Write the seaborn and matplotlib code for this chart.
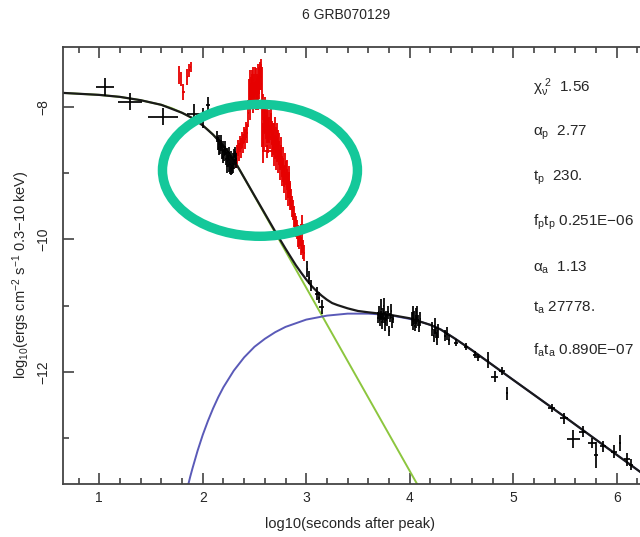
import numpy as np
import pandas as pd
import matplotlib
matplotlib.use("Agg")
import matplotlib.pyplot as plt
from matplotlib.patches import Ellipse
from matplotlib.ticker import MultipleLocator
import seaborn as sns

# ---------------- data ----------------
# model curves: log10(seconds after peak) vs log10 flux
prompt_x = [0.65, 1.0, 1.2, 1.4, 1.6, 1.7, 1.8, 1.9, 2.0, 2.05, 2.1, 2.15, 2.2, 2.25, 2.3, 2.33, 2.36, 4.1]
prompt_y = [-7.79, -7.82, -7.85, -7.90, -7.97, -8.02, -8.09, -8.17, -8.28, -8.345, -8.42, -8.50, -8.59, -8.69, -8.80, -8.875, -8.96, -13.77]

after_x = [1.86, 1.88, 1.9, 1.95, 2.0, 2.05, 2.1, 2.15, 2.2, 2.3, 2.4, 2.5, 2.6, 2.7, 2.8, 3.0, 3.2, 3.4, 3.6, 3.8, 4.0, 4.1, 4.2, 4.3, 4.44, 4.6, 5.0, 5.5, 6.0, 6.6]
after_y = [-13.70, -13.575, -13.46, -13.19, -12.95, -12.74, -12.55, -12.38, -12.23, -11.98, -11.78, -11.62, -11.50, -11.40, -11.32, -11.21, -11.15, -11.12, -11.12, -11.14, -11.20, -11.24, -11.29, -11.36, -11.50, -11.67, -12.12, -12.68, -13.25, -13.93]

total_x = [0.65, 1.0, 1.2, 1.4, 1.6, 1.8, 1.9, 2.0, 2.1, 2.2, 2.3, 2.36, 2.5, 2.6, 2.7, 2.8, 2.9, 2.95, 3.0, 3.05, 3.1, 3.15, 3.2, 3.25, 3.3, 3.4, 3.5, 3.6, 3.8, 4.0, 4.2, 4.3, 4.44, 4.6, 5.0, 5.5, 6.0, 6.6]
total_y = [-7.79, -7.82, -7.85, -7.90, -7.97, -8.09, -8.17, -8.28, -8.42, -8.59, -8.80, -8.96, -9.34, -9.61, -9.88, -10.14, -10.39, -10.50, -10.605, -10.70, -10.78, -10.85, -10.91, -10.96, -10.99, -11.04, -11.08, -11.10, -11.135, -11.19, -11.29, -11.36, -11.50, -11.67, -12.12, -12.68, -13.25, -13.93]

# black data points
blk_x = [1.056, 1.297, 1.62, 1.92, 2.0, 2.05,
         2.14, 2.15, 2.16, 2.17, 2.18, 2.19, 2.20, 2.21, 2.22, 2.225, 2.23, 2.24, 2.245, 2.25, 2.26, 2.265, 2.27, 2.28, 2.285, 2.29, 2.30, 2.305, 2.31, 2.32,
         2.155, 2.175, 2.195, 2.215, 2.235, 2.255, 2.275, 2.295, 2.315, 2.325,
         3.01, 3.03, 3.05, 3.10, 3.12, 3.15,
         3.69, 3.70, 3.71, 3.72, 3.725, 3.73, 3.74, 3.745, 3.75, 3.76, 3.765, 3.77, 3.78, 3.79, 3.80, 3.81, 3.82, 3.83, 3.84,
         4.02, 4.03, 4.035, 4.04, 4.05, 4.06, 4.065, 4.07, 4.08, 4.09, 4.10,
         4.22, 4.23, 4.24, 4.25, 4.26, 4.27, 4.34, 4.36, 4.38,
         4.45, 4.54, 4.63, 4.66, 4.76, 4.82, 4.89, 4.94,
         5.37, 5.49, 5.58, 5.67, 5.76, 5.80, 5.87, 5.97, 6.03, 6.10, 6.14]
blk_y = [-7.70, -7.92, -8.146, -8.11, -8.17, -7.98,
         -8.45, -8.55, -8.50, -8.62, -8.58, -8.68, -8.60, -8.72, -8.66, -8.78, -8.70, -8.82, -8.74, -8.88, -8.80, -8.92, -8.75, -8.85, -8.95, -8.78, -8.86, -8.70, -8.80, -8.75,
         -8.62, -8.52, -8.75, -8.62, -8.90, -8.70, -8.95, -8.92, -8.68, -8.85,
         -10.45, -10.58, -10.70, -10.82, -10.88, -11.02,
         -11.18, -11.10, -11.22, -11.15, -11.05, -11.25, -11.12, -11.20, -11.00, -11.18, -11.28, -11.15, -11.22, -11.10, -11.38, -11.18, -11.08, -11.25, -11.20,
         -11.20, -11.12, -11.28, -11.18, -11.30, -11.15, -11.25, -11.10, -11.22, -11.32, -11.20,
         -11.35, -11.45, -11.30, -11.40, -11.50, -11.38, -11.45, -11.42, -11.52,
         -11.56, -11.62, -11.74, -11.78, -11.82, -12.07, -11.99, -12.32,
         -12.54, -12.70, -13.01, -12.90, -13.07, -13.25, -13.12, -13.20, -13.07, -13.32, -13.40]
blk_xerr = [0.09, 0.115, 0.145, 0.07, 0.05, 0.02] + [0.006] * 24 + [0.006] * 10 + [0.005, 0.005, 0.01, 0.02, 0.01, 0.025] + [0.005] * 19 + [0.005] * 11 + [0.005] * 6 + [0.008] * 3 + \
           [0.02, 0.02, 0.02, 0.02, 0.005, 0.03, 0.03, 0.01] + [0.03, 0.04, 0.065, 0.03, 0.04, 0.015, 0.03, 0.03, 0.01, 0.025, 0.02]
blk_yerr = [0.135, 0.13, 0.13, 0.16, 0.15, 0.13] + [0.08, 0.1, 0.07, 0.09, 0.08, 0.1, 0.08, 0.09, 0.07, 0.1, 0.08, 0.09, 0.07, 0.1, 0.08, 0.09, 0.08, 0.1, 0.07, 0.09, 0.08, 0.07, 0.08, 0.06] + \
           [0.1, 0.1, 0.1, 0.1, 0.1, 0.1, 0.08, 0.08, 0.08, 0.08] + \
           [0.12, 0.1, 0.08, 0.1, 0.08, 0.1] + \
           [0.08, 0.1, 0.08, 0.07, 0.15, 0.1, 0.08, 0.06, 0.12, 0.08, 0.1, 0.07, 0.09, 0.1, 0.08, 0.07, 0.1, 0.08, 0.06] + \
           [0.1, 0.12, 0.08, 0.1, 0.08, 0.12, 0.08, 0.1, 0.08, 0.07, 0.1] + \
           [0.1, 0.1, 0.12, 0.08, 0.1, 0.1, 0.08, 0.1, 0.08] + \
           [0.05, 0.05, 0.05, 0.05, 0.12, 0.08, 0.06, 0.1] + \
           [0.06, 0.08, 0.13, 0.08, 0.08, 0.2, 0.08, 0.1, 0.12, 0.1, 0.08]

# red (flare) data points
red_x = [1.77, 1.79, 1.81, 1.85, 1.87, 1.885,
         2.32, 2.33, 2.34, 2.35, 2.36, 2.37, 2.38, 2.39, 2.40, 2.41, 2.42, 2.43, 2.44, 2.45, 2.46, 2.47, 2.48, 2.49,
         2.50, 2.51, 2.52, 2.53, 2.54, 2.55, 2.56, 2.57, 2.58, 2.59, 2.60, 2.61, 2.62, 2.63, 2.64, 2.65, 2.66, 2.67,
         2.68, 2.69, 2.70, 2.71, 2.72, 2.73, 2.74, 2.75, 2.76, 2.77, 2.78, 2.79, 2.80, 2.81, 2.82, 2.83, 2.84, 2.85,
         2.86, 2.87, 2.88, 2.89, 2.90, 2.91, 2.92, 2.93, 2.94, 2.95, 2.96, 2.97, 2.98,
         2.455, 2.465, 2.475, 2.485, 2.495, 2.505, 2.515, 2.525, 2.535, 2.545, 2.555, 2.565, 2.575, 2.585, 2.595,
         2.605, 2.615, 2.625, 2.635, 2.645, 2.655, 2.665, 2.675, 2.685, 2.695, 2.705, 2.715, 2.725, 2.735, 2.745,
         2.755, 2.765, 2.775, 2.785, 2.795, 2.805, 2.815, 2.825, 2.835, 2.845,
         2.62, 2.96]
red_y = [-7.52, -7.58, -7.78, -7.55, -7.45, -7.40,
         -8.80, -8.72, -8.62, -8.68, -8.56, -8.62, -8.50, -8.55, -8.42, -8.48, -8.35, -8.40, -8.10, -7.80, -7.65, -7.85, -7.70, -7.60,
         -7.80, -7.62, -7.75, -7.55, -7.70, -7.45, -7.36, -7.65, -8.00, -8.20, -8.05, -8.30, -8.15, -8.35, -8.25, -8.45, -8.30, -8.40,
         -8.55, -8.45, -8.60, -8.50, -8.65, -8.55, -8.70, -8.80, -8.75, -8.90, -8.95, -9.05, -9.00, -9.10, -9.20, -9.15, -9.30, -9.40,
         -9.50, -9.55, -9.65, -9.75, -9.80, -9.85, -9.95, -10.00, -9.95, -10.10, -10.05, -10.15, -10.20,
         -7.95, -7.75, -7.70, -7.90, -7.70, -7.65, -7.85, -7.70, -7.80, -7.60, -7.55, -7.55, -8.30, -8.55, -8.40,
         -8.15, -8.40, -8.30, -8.50, -8.35, -8.20, -8.55, -8.45, -8.70, -8.35, -8.75, -8.45, -8.80, -8.60, -8.90,
         -8.65, -9.00, -8.80, -9.10, -8.90, -9.20, -9.00, -9.30, -9.10, -9.35,
         -8.67, -9.78]
red_xerr = [0.004, 0.004, 0.015, 0.004, 0.004, 0.004] + [0.005] * 67 + [0.005] * 40 + [0.05, 0.02]
red_yerr = [0.13, 0.10, 0.12, 0.12, 0.10, 0.08] + \
           [0.12, 0.15, 0.12, 0.14, 0.12, 0.15, 0.12, 0.14, 0.12, 0.15, 0.12, 0.14, 0.2, 0.22, 0.2, 0.18, 0.2, 0.2,
            0.18, 0.2, 0.18, 0.2, 0.18, 0.12, 0.08, 0.25, 0.2, 0.18, 0.2, 0.18, 0.2, 0.18, 0.2, 0.18, 0.2, 0.18,
            0.18, 0.2, 0.18, 0.2, 0.18, 0.2, 0.18, 0.16, 0.18, 0.16, 0.18, 0.16, 0.18, 0.16, 0.18, 0.16, 0.18, 0.16,
            0.16, 0.15, 0.16, 0.15, 0.16, 0.15, 0.16, 0.15, 0.15, 0.14, 0.15, 0.14, 0.12] + \
           [0.25, 0.2, 0.25, 0.2, 0.2, 0.25, 0.2, 0.2, 0.25, 0.2, 0.2, 0.2, 0.3, 0.3, 0.25,
            0.25, 0.2, 0.25, 0.2, 0.2, 0.2, 0.2, 0.2, 0.2, 0.2, 0.2, 0.2, 0.2, 0.2, 0.2,
            0.2, 0.2, 0.2, 0.2, 0.2, 0.2, 0.2, 0.2, 0.2, 0.2] + [0.1, 0.15]

# fit parameters shown at the right
param_labels = [r'$\chi_\nu^{\ 2}$', r'$\alpha_p$', r'$t_p$', r'$f_pt_p$', r'$\alpha_a$', r'$t_a$', r'$f_at_a$']
param_values = ['  1.56', '  2.77', '  230.', ' 0.251E\u221206', '  1.13', ' 27778.', ' 0.890E\u221207']

x_ticks = [1, 2, 3, 4, 5, 6]
y_ticks = [-8, -10, -12]

# ---------------- figure ----------------
sns.set_theme(style="ticks")
plt.rcParams['font.family'] = ['Liberation Sans', 'DejaVu Sans']
plt.rcParams['mathtext.default'] = 'regular'

W, H = 640, 537
fig = plt.figure(figsize=(W / 100, H / 100), dpi=100)
ax_left, ax_right_px, ax_top, ax_bot = 63, 679, 46.5, 484
ax = fig.add_axes([ax_left / W, (H - ax_bot) / H, (ax_right_px - ax_left) / W, (ax_bot - ax_top) / H])

df_p = pd.DataFrame({'x': prompt_x, 'y': prompt_y})
df_a = pd.DataFrame({'x': after_x, 'y': after_y})
df_t = pd.DataFrame({'x': total_x, 'y': total_y})

sns.lineplot(data=df_p, x='x', y='y', ax=ax, color='#8cc63e', lw=1.4, sort=False, estimator=None)
sns.lineplot(data=df_a, x='x', y='y', ax=ax, color='#5a5ab8', lw=1.4, sort=False, estimator=None)
sns.lineplot(data=df_t, x='x', y='y', ax=ax, color='#1a1a1a', lw=1.6, sort=False, estimator=None)

ax.errorbar(red_x, red_y, xerr=red_xerr, yerr=red_yerr, fmt='none', ecolor='#e60000', elinewidth=1.3, capsize=0, zorder=4)
ax.errorbar(blk_x, blk_y, xerr=blk_xerr, yerr=blk_yerr, fmt='none', ecolor='black', elinewidth=1.25, capsize=0, zorder=4)

ax.add_patch(Ellipse((2.553, -8.958), 1.884, 1.99, fill=False, edgecolor='#14c89a', lw=6.8, zorder=6))

ax.set_xlim(0.65, 0.65 + (ax_right_px - ax_left) / 103.5)
ax.set_ylim(-13.69, -7.09)
ax.set_xticks(x_ticks)
ax.set_xticklabels([str(v) for v in x_ticks], fontsize=10)
ax.xaxis.set_minor_locator(MultipleLocator(0.2))
ax.set_yticks(y_ticks)
ax.set_yticklabels(['\u2212%d' % abs(v) for v in y_ticks], fontsize=10, rotation=90, va='center')
ax.yaxis.set_minor_locator(MultipleLocator(1))
ax.tick_params(which='both', direction='in', top=True, right=True, color='#333333', width=1.1)
ax.tick_params(which='major', length=8)
ax.tick_params(which='minor', length=4)
ax.tick_params(axis='x', which='major', pad=5)
ax.tick_params(axis='y', which='major', pad=9)
ax.set_xlabel('')
ax.set_ylabel('')
for s in ax.spines.values():
    s.set_color('#444444')
    s.set_linewidth(1.3)

fig.text(346 / W, 1 - 15 / H, '6 GRB070129', ha='center', va='center', fontsize=10)
fig.text(350 / W, 1 - 524 / H, 'log10(seconds after peak)', ha='center', va='center', fontsize=10.5)
fig.text(21 / W, 1 - 275 / H, r'log$_{10}$(ergs cm$^{-2}$ s$^{-1}$ 0.3$-$10 keV)', ha='center', va='center',
         rotation=90, fontsize=10.5)

ys = [88, 133, 178, 222, 268, 308, 350]
for lab, val, yp in zip(param_labels, param_values, ys):
    fig.text(533 / W, 1 - yp / H, lab + val, ha='left', va='center', fontsize=11)

fig.savefig('out.png', dpi=100)
